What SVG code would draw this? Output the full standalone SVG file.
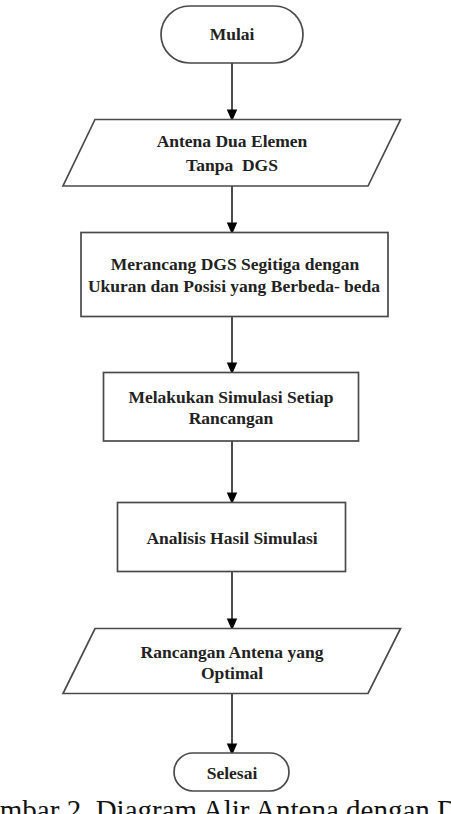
<svg xmlns="http://www.w3.org/2000/svg" width="451" height="814" viewBox="0 0 451 814">
<defs>
<style>
.n{fill:#fff;stroke:#4a4a4a;stroke-width:1.7}
.t{font-family:"Liberation Serif","Times New Roman",serif;font-weight:bold;font-size:17.5px;fill:#222;text-anchor:middle;white-space:pre}
.c{stroke:#000;stroke-width:1.4;fill:none}
.cap{font-family:"Liberation Serif","Times New Roman",serif;font-size:29px;fill:#111}
</style>
<marker id="ah" markerWidth="12" markerHeight="15" refX="12" refY="6.5" orient="auto" markerUnits="userSpaceOnUse" viewBox="0 0 15 13">
<path d="M0,0 L15,6.5 L0,13 Z" fill="#000"/>
</marker>
</defs>
<rect width="451" height="814" fill="#fff"/>
<g id="connectors">
<line class="c" x1="232" y1="63" x2="232" y2="119" marker-end="url(#ah)"/>
<line class="c" x1="232" y1="186" x2="232" y2="232" marker-end="url(#ah)"/>
<line class="c" x1="232" y1="317" x2="232" y2="372" marker-end="url(#ah)"/>
<line class="c" x1="232" y1="441" x2="232" y2="502" marker-end="url(#ah)"/>
<line class="c" x1="232" y1="571" x2="232" y2="628" marker-end="url(#ah)"/>
<line class="c" x1="232" y1="694" x2="232" y2="753" marker-end="url(#ah)"/>
</g>
<g id="mulai">
<rect class="n" x="161" y="6" width="142" height="57" rx="28.5"/>
<text class="t" x="232" y="40">Mulai</text>
</g>
<g id="antena-dua-elemen">
<polygon class="n" points="95,119.5 400.5,119.5 368,186 63,186"/>
<text class="t" x="232" y="147">Antena Dua Elemen</text>
<text class="t" x="232" y="171">Tanpa  DGS</text>
</g>
<g id="merancang">
<rect class="n" x="81" y="232.5" width="307" height="84"/>
<text class="t" x="235" y="270">Merancang DGS Segitiga dengan</text>
<text class="t" x="234" y="292">Ukuran dan Posisi yang Berbeda- beda</text>
</g>
<g id="simulasi">
<rect class="n" x="103.5" y="372.5" width="255" height="68.5"/>
<text class="t" x="231" y="403">Melakukan Simulasi Setiap</text>
<text class="t" x="231" y="424">Rancangan</text>
</g>
<g id="analisis">
<rect class="n" x="117.5" y="502.5" width="228" height="69"/>
<text class="t" x="232" y="543.5">Analisis Hasil Simulasi</text>
</g>
<g id="rancangan-optimal">
<polygon class="n" points="95,628.5 400.5,628.5 368,693.5 63,693.5"/>
<text class="t" x="232" y="657.5">Rancangan Antena yang</text>
<text class="t" x="232" y="679">Optimal</text>
</g>
<g id="selesai">
<rect class="n" x="174" y="753" width="115" height="38" rx="19"/>
<text class="t" x="232" y="779">Selesai</text>
</g>
<text class="cap" x="-34" y="820">Gambar 2. Diagram Alir Antena dengan DGS</text>
</svg>
